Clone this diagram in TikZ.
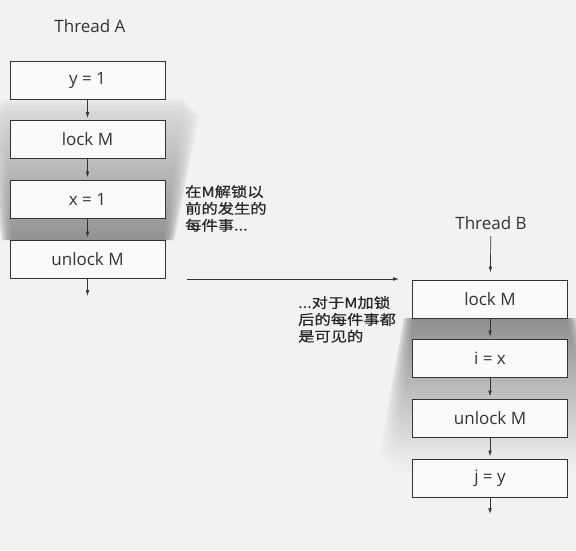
\documentclass[tikz,border=0pt]{standalone}
\usepackage{fontspec}
\setmainfont{Open Sans}
\newfontfamily\cjkfont[FakeStretch=1.18,FakeBold=0.6]{Noto Sans CJK SC}
\usetikzlibrary{arrows.meta}
\definecolor{bg}{HTML}{F2F2F2}
\definecolor{boxfill}{HTML}{FAFAFA}
\definecolor{ink}{HTML}{333333}
\tikzset{
  stepbox/.style={draw=ink, line width=0.9pt, fill=boxfill, minimum width=155pt, minimum height=38pt, inner sep=0pt, font=\fontsize{17}{20}\selectfont, text=ink},
  flow/.style={draw=ink, line width=0.7pt, -{Latex[length=6pt,width=3.6pt]}},
  title/.style={font=\fontsize{17}{20}\selectfont, text=ink},
  note/.style={font=\cjkfont\fontsize{13.8}{16.8}\selectfont, align=left, anchor=north west, inner sep=0pt, text=black!85}
}
\begin{document}
\begin{tikzpicture}[x=1pt,y=-1pt]
\useasboundingbox (0,0) rectangle (576,550);
\fill[bg] (0,0) rectangle (576,550);
% soft shading for Thread A
\foreach \d in {0,1,2,3,4,5}{
  \shade[opacity=0.25, top color=black!16, bottom color=black!50]
    ({3-3*\d},{99+3*\d}) -- ({184+3*\d},{99+3*\d}) -- ({164+2*\d},240) -- ({12-2*\d},240) -- cycle;
}
% soft shading for Thread B
\foreach \d in {0,1,2,3,4,5}{
  \shade[opacity=0.25, top color=black!52, bottom color=bg]
    ({414-2*\d},318) -- ({566+2*\d},318) -- ({610+3*\d},{478-3*\d}) -- ({393-3*\d},{478-3*\d}) -- cycle;
}

% Thread A
\node[title] (ta) at (90,26) {Thread A};
\node[stepbox] (a1) at (87.5,80) {y = 1};
\node[stepbox] (a2) at (87.5,139.5) {lock M};
\node[stepbox] (a3) at (87.5,199) {x = 1};
\node[stepbox] (a4) at (87.5,259) {unlock M};
\coordinate (aend) at (87.5,296);
\draw[flow, shorten >=2pt] (a1) -- (a2);
\draw[flow, shorten >=2pt] (a2) -- (a3);
\draw[flow, shorten >=2pt] (a3) -- (a4);
\draw[flow] (a4) -- (aend);

% Thread B
\node[title] (tb) at (491,223) {Thread B};
\node[stepbox] (b1) at (490,299) {lock M};
\node[stepbox] (b2) at (490,358) {i = x};
\node[stepbox] (b3) at (490,418) {unlock M};
\node[stepbox] (b4) at (490,478) {j = y};
\coordinate (bend) at (490,514);
\draw[flow, shorten <=3pt, shorten >=7pt] (tb) -- (b1);
\draw[flow, shorten >=2pt] (b1) -- (b2);
\draw[flow, shorten >=2pt] (b2) -- (b3);
\draw[flow, shorten >=2pt] (b3) -- (b4);
\draw[flow] (b4) -- (bend);

% notes
\node[note] (n1) at (185,185) {在M解锁以\\前的发生的\\每件事...};
\node[note] (n2) at (298,296) {...对于M加锁\\后的每件事都\\是可见的};

% happens-before arrow
\coordinate (hs) at (187,279);
\coordinate (he) at (399,279);
\draw[flow] (hs) -- (he);
\end{tikzpicture}
\end{document}
